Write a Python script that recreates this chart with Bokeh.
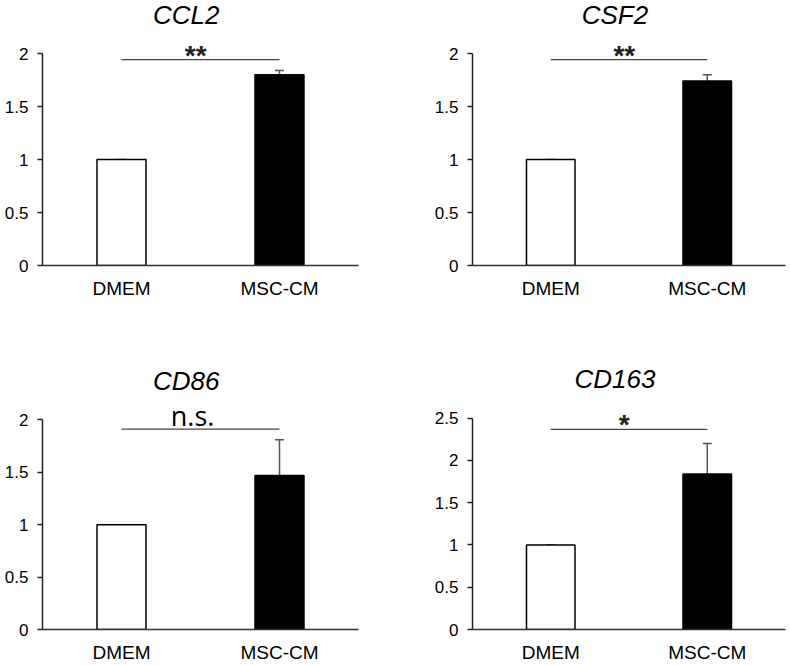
from bokeh.plotting import figure
from bokeh.layouts import column, row
from bokeh.models import FactorRange, Range1d, FixedTicker, ColumnDataSource, Whisker, TeeHead
from bokeh.core.properties import value
from bokeh.embed import file_html
from bokeh.resources import INLINE

# ---- data ----
genes = ["CCL2", "CSF2", "CD86", "CD163"]
groups = ["DMEM", "MSC-CM"]
means_ccl2 = [1.0, 1.80]
sd_ccl2 = [0.0, 0.04]
means_csf2 = [1.0, 1.74]
sd_csf2 = [0.0, 0.06]
means_cd86 = [1.0, 1.47]
sd_cd86 = [0.0, 0.34]
means_cd163 = [1.0, 1.84]
sd_cd163 = [0.0, 0.36]
significance = ["**", "**", "n.s.", "*"]
ticks_2 = [0, 0.5, 1, 1.5, 2]
tick_labels_2 = ["0", "0.5", "1", "1.5", "2"]
ticks_25 = [0, 0.5, 1, 1.5, 2, 2.5]
tick_labels_25 = ["0", "0.5", "1", "1.5", "2", "2.5"]

means_all = [means_ccl2, means_csf2, means_cd86, means_cd163]
sd_all = [sd_ccl2, sd_csf2, sd_cd86, sd_cd163]
ticks_all = [ticks_2, ticks_2, ticks_2, ticks_25]
labels_all = [tick_labels_2, tick_labels_2, tick_labels_2, tick_labels_25]

# ---- layout (per panel) ----
FONT = "Liberation Sans"
panel_w = [400, 390, 400, 390]
panel_h = [320, 320, 345, 345]
border_left = [42, 72, 42, 72]
border_right = [42, 5, 42, 5]
border_bottom = [55, 55, 34, 34]
y_end = [2.5, 2.5, 2.948, 3.655]
title_y = [2.362, 2.362, 2.37, 2.96]
sig_line_y = [1.943, 1.943, 1.912, 2.366]
sig_text_y = [1.983, 1.983, 2.045, 2.42]
sig_text_x = [0.97, 0.97, 0.95, 0.97]
title_x = 0.91


def make_panel(i):
    p = figure(width=panel_w[i], height=panel_h[i],
               x_range=FactorRange(*groups), y_range=Range1d(0, y_end[i]),
               output_backend="svg", toolbar_location=None,
               min_border_left=border_left[i], min_border_right=border_right[i],
               min_border_top=0, min_border_bottom=border_bottom[i])
    p.outline_line_color = None
    p.xgrid.visible = False
    p.ygrid.visible = False
    p.background_fill_color = "white"
    p.border_fill_color = "white"

    fills = ["white", "black"]
    p.vbar(x=groups, top=means_all[i], width=0.31, fill_color=fills,
           line_color="black", line_width=1.5)

    upper = [m + s for m, s in zip(means_all[i], sd_all[i])]
    src = ColumnDataSource(dict(x=groups, lower=means_all[i], upper=upper))
    w = Whisker(base="x", lower="lower", upper="upper", source=src,
                line_color="#555555", line_width=1.5,
                upper_head=TeeHead(size=9, line_color="#555555", line_width=1.5),
                lower_head=None)
    p.add_layout(w)

    # significance bracket
    p.segment(x0=[groups[0]], x1=[groups[1]], y0=[sig_line_y[i]], y1=[sig_line_y[i]],
              line_color="#444444", line_width=1.2)
    if significance[i] == "n.s.":
        p.text(x=[sig_text_x[i]], y=[sig_text_y[i]], text=[significance[i]],
               text_font=value("Open Sans"), text_font_size="27px",
               text_align="center", text_baseline="middle", text_color="black")
    else:
        p.text(x=[sig_text_x[i]], y=[sig_text_y[i]], text=[significance[i]],
               text_font=value(FONT), text_font_size="28px", text_font_style="bold",
               text_align="center", text_baseline="middle", text_color="#222222")

    # panel title
    p.text(x=[title_x], y=[title_y[i]], text=[genes[i]],
           text_font=value(FONT), text_font_size="26px", text_font_style="italic",
           text_align="center", text_baseline="middle", text_color="black")

    # axes
    p.yaxis.bounds = (0, ticks_all[i][-1])
    p.yaxis.ticker = FixedTicker(ticks=ticks_all[i])
    p.yaxis.major_label_overrides = {t: l for t, l in zip(ticks_all[i], labels_all[i])}
    p.yaxis.minor_tick_line_color = None
    p.yaxis.major_tick_in = 0
    p.yaxis.major_tick_out = 5
    p.yaxis.major_tick_line_width = 1.5
    p.yaxis.major_tick_line_color = "#222222"
    p.yaxis.axis_line_width = 1.5
    p.yaxis.axis_line_color = "#222222"
    p.yaxis.major_label_standoff = 9
    p.yaxis.major_label_text_font = FONT
    p.yaxis.major_label_text_font_size = "17px"
    p.yaxis.major_label_text_color = "black"

    p.xaxis.axis_line_width = 1.5
    p.xaxis.axis_line_color = "#333333"
    p.xaxis.major_tick_line_color = None
    p.xaxis.minor_tick_line_color = None
    p.xaxis.major_label_standoff = 6
    p.xaxis.major_label_text_font = FONT
    p.xaxis.major_label_text_font_size = "19px"
    p.xaxis.major_label_text_color = "black"
    return p


panels = [make_panel(i) for i in range(4)]
layout = column(row(panels[0], panels[1]), row(panels[2], panels[3]))

open("out.html", "w").write(file_html(layout, INLINE))
